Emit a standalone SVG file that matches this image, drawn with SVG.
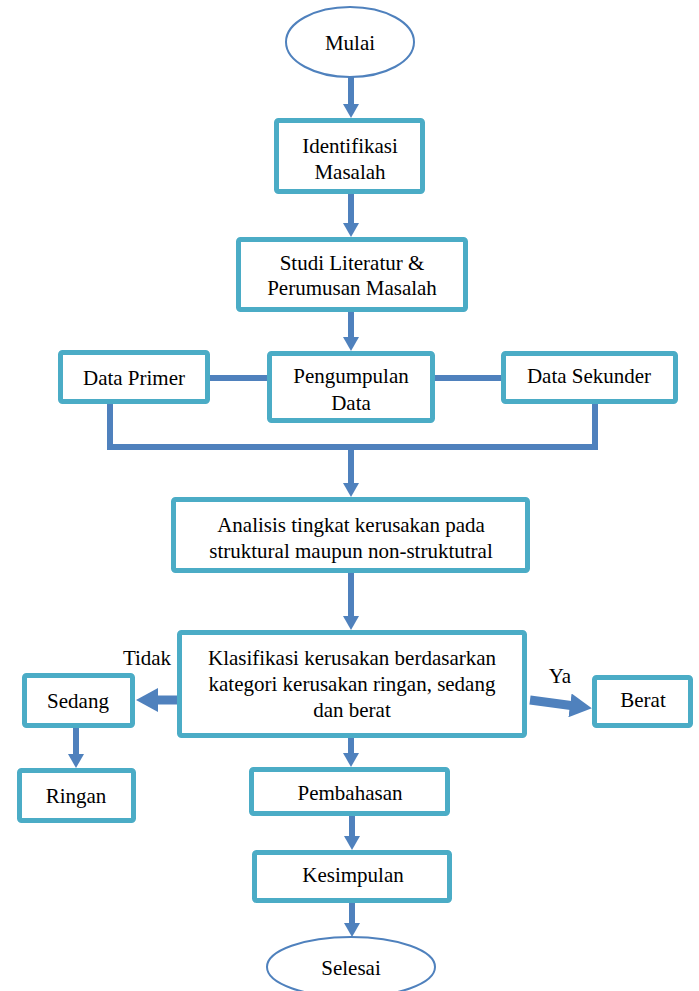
<svg xmlns="http://www.w3.org/2000/svg" width="699" height="991" viewBox="0 0 699 991">
<style>
.box{fill:#fff;stroke:#4BACC6;stroke-width:5}
.ell{fill:#fff;stroke:#4F81BD;stroke-width:2}
.t{font-family:"Liberation Serif","Times New Roman",serif;font-size:21px;fill:#000;text-anchor:middle}
.c{fill:none;stroke:#4F81BD;stroke-width:6}
.ct{fill:none;stroke:#4F81BD;stroke-width:9}
</style>
<defs>
<marker id="ah" markerUnits="userSpaceOnUse" viewBox="0 -8 14 16" refX="1" refY="0" markerWidth="14" markerHeight="16" orient="auto">
<path d="M0,-8 L14,0 L0,8 z" fill="#4F81BD"/>
</marker>
<marker id="ahb" markerUnits="userSpaceOnUse" viewBox="0 -12 22 24" refX="1" refY="0" markerWidth="22" markerHeight="24" orient="auto">
<path d="M0,-12 L22,0 L0,12 z" fill="#4F81BD"/>
</marker>
</defs>
<g id="connectors">
<line class="c" x1="351" y1="77" x2="351" y2="105" marker-end="url(#ah)"/>
<line class="c" x1="351" y1="194" x2="351" y2="224" marker-end="url(#ah)"/>
<line class="c" x1="351" y1="312" x2="351" y2="338" marker-end="url(#ah)"/>
<line class="c" x1="210" y1="378" x2="267" y2="378"/>
<line class="c" x1="435" y1="378" x2="501" y2="378"/>
<polyline class="c" points="110,404 110,447 595,447 595,404"/>
<line class="c" x1="351" y1="447" x2="351" y2="484" marker-end="url(#ah)"/>
<line class="c" x1="351" y1="573" x2="351" y2="617" marker-end="url(#ah)"/>
<line class="ct" x1="177" y1="700" x2="157" y2="700" marker-end="url(#ahb)"/>
<line class="c" x1="76" y1="728" x2="76" y2="755" marker-end="url(#ah)"/>
<line class="ct" x1="530" y1="700" x2="571" y2="705.5" marker-end="url(#ahb)"/>
<line class="c" x1="351" y1="738" x2="351" y2="754" marker-end="url(#ah)"/>
<line class="c" x1="352" y1="816" x2="352" y2="837" marker-end="url(#ah)"/>
<line class="c" x1="352" y1="903" x2="352" y2="924" marker-end="url(#ah)"/>
</g>
<g id="mulai">
<ellipse class="ell" cx="350" cy="42" rx="64" ry="35"/>
<text class="t" x="350" y="50">Mulai</text>
</g>
<g id="identifikasi">
<rect class="box" x="276.5" y="120.5" width="146" height="71" rx="2"/>
<text class="t" x="350" y="153">Identifikasi</text>
<text class="t" x="350" y="179">Masalah</text>
</g>
<g id="studi">
<rect class="box" x="238.5" y="239.5" width="227" height="70" rx="2"/>
<text class="t" x="352" y="270">Studi Literatur &amp;</text>
<text class="t" x="352" y="295">Perumusan Masalah</text>
</g>
<g id="data-primer">
<rect class="box" x="60.5" y="352.5" width="147" height="49" rx="2"/>
<text class="t" x="134" y="385">Data Primer</text>
</g>
<g id="pengumpulan">
<rect class="box" x="269.5" y="353.5" width="163" height="67" rx="2"/>
<text class="t" x="351" y="383">Pengumpulan</text>
<text class="t" x="351" y="410">Data</text>
</g>
<g id="data-sekunder">
<rect class="box" x="503.5" y="353.5" width="172" height="48" rx="2"/>
<text class="t" x="589" y="383">Data Sekunder</text>
</g>
<g id="analisis">
<rect class="box" x="173.5" y="499.5" width="354" height="71" rx="2"/>
<text class="t" x="351" y="532">Analisis tingkat kerusakan pada</text>
<text class="t" x="351" y="558">struktural maupun non-struktutral</text>
</g>
<g id="klasifikasi">
<rect class="box" x="179.5" y="632.5" width="345" height="103" rx="2"/>
<text class="t" x="352" y="665">Klasifikasi kerusakan berdasarkan</text>
<text class="t" x="352" y="691">kategori kerusakan ringan, sedang</text>
<text class="t" x="352" y="717">dan berat</text>
</g>
<g id="label-tidak"><text class="t" x="147" y="665">Tidak</text></g>
<g id="label-ya"><text class="t" x="560" y="683">Ya</text></g>
<g id="sedang">
<rect class="box" x="24.5" y="675.5" width="108" height="50" rx="2"/>
<text class="t" x="78" y="708">Sedang</text>
</g>
<g id="ringan">
<rect class="box" x="19.5" y="770.5" width="114" height="50" rx="2"/>
<text class="t" x="76" y="803">Ringan</text>
</g>
<g id="berat">
<rect class="box" x="594.5" y="677.5" width="96" height="48" rx="2"/>
<text class="t" x="643" y="707">Berat</text>
</g>
<g id="pembahasan">
<rect class="box" x="251.5" y="769.5" width="196" height="44" rx="2"/>
<text class="t" x="350" y="800">Pembahasan</text>
</g>
<g id="kesimpulan">
<rect class="box" x="254.5" y="852.5" width="195" height="48" rx="2"/>
<text class="t" x="353" y="882">Kesimpulan</text>
</g>
<g id="selesai">
<ellipse class="ell" cx="351" cy="967" rx="84" ry="30"/>
<text class="t" x="351" y="975">Selesai</text>
</g>
</svg>
